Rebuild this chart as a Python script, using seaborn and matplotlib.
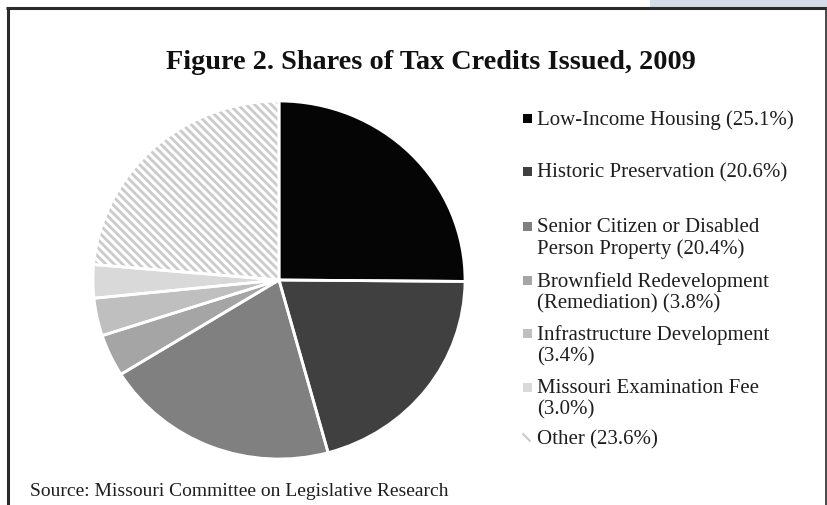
import matplotlib
matplotlib.use("Agg")
import matplotlib.pyplot as plt
import matplotlib.patches as mpatches
import seaborn as sns

# data
categories = ["Low-Income Housing", "Historic Preservation",
              "Senior Citizen or Disabled\nPerson Property",
              "Brownfield Redevelopment\n(Remediation)",
              "Infrastructure Development\n", "Missouri Examination Fee\n",
              "Other"]
shares = [25.1, 20.6, 20.4, 3.8, 3.4, 3.0, 23.6]
slice_colors = ["#050505", "#404040", "#808080", "#a5a5a5", "#bfbfbf", "#d9d9d9", "#ffffff"]

sns.set_theme(style="white")
plt.rcParams['font.family'] = ['Liberation Serif', 'DejaVu Serif']
plt.rcParams['hatch.linewidth'] = 2.0

palette = sns.color_palette(slice_colors)

fig = plt.figure(figsize=(8.27, 5.06), dpi=100)
W, H = 827, 506

# pie axes (slightly wider than tall, like the scan)
cx, cy, rx, ry = 279, 281, 186, 179
ax = fig.add_axes([(cx - rx) / W, 1 - (cy + ry) / H, 2 * rx / W, 2 * ry / H])
wedges, _ = ax.pie(shares, colors=palette, startangle=90, counterclock=False,
                   wedgeprops=dict(linewidth=0))
wedges[-1].set_hatch('\\\\\\\\')
wedges[-1].set_edgecolor('#cbcbcb')  # hatch colour, edge width is 0
# white separators on top
ax.pie(shares, colors=['none'] * len(shares), startangle=90, counterclock=False,
       wedgeprops=dict(linewidth=2, edgecolor='white', facecolor='none'))
ax.set_aspect('auto')
ax.set_xlim(-1, 1)
ax.set_ylim(-1, 1)
ax.axis('off')

# overlay in pixel coords for frame, title, legend, source
ov = fig.add_axes([0, 0, 1, 1], zorder=-1)
ov.set_xlim(0, W)
ov.set_ylim(H, 0)
ov.axis('off')
ov.add_patch(mpatches.Rectangle((650, 0), W - 650, 7.5, color='#d6dce9', lw=0))
ov.plot([6, 826], [8.5, 8.5], color='#2b2b2b', lw=2.2, solid_capstyle='butt')
ov.plot([7.5, 7.5], [8, H], color='#2b2b2b', lw=2.2, solid_capstyle='butt')
ov.plot([825.5, 825.5], [8, H], color='#2b2b2b', lw=1.2, solid_capstyle='butt')

leg = fig.add_axes([0, 0, 1, 1])
leg.set_xlim(0, W)
leg.set_ylim(H, 0)
leg.axis('off')

leg.text(431, 62, "Figure 2. Shares of Tax Credits Issued, 2009", ha='center', va='center',
         fontsize=20.3, fontweight='bold', color='#111111')

row_y = [119, 172, 227, 281, 334, 388, 439]
for name, val, col, y in zip(categories, shares, slice_colors, row_y):
    sep = "" if name.endswith("\n") else " "
    label = f"{name}{sep}({val:.1f}%)"
    if col == "#ffffff":
        leg.plot([523, 530], [y - 4, y + 3], color='#c9c9c9', lw=1.5)
    else:
        leg.add_patch(mpatches.Rectangle((522.5, y - 4.5), 9, 9, color=col, lw=0))
    leg.text(537, y - 9, label, ha='left', va='top', fontsize=15, color='#1e1e1e',
             linespacing=1.17)

leg.text(30, 492, "Source: Missouri Committee on Legislative Research", ha='left', va='center',
         fontsize=14, color='#1e1e1e')

plt.savefig("out.png", dpi=100)
